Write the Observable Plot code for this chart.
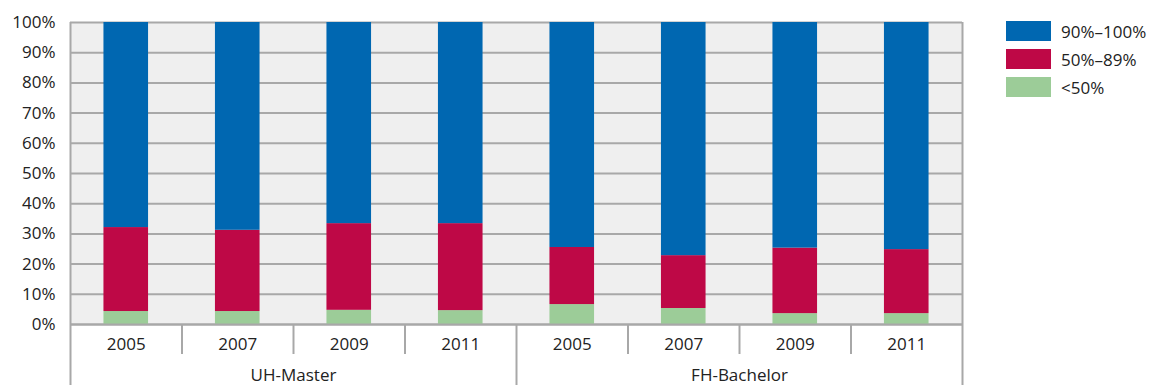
<!DOCTYPE html>
<html>
<head>
<meta charset="utf-8">
<script src="https://cdn.jsdelivr.net/npm/d3@7"></script>
<script src="https://cdn.jsdelivr.net/npm/@observablehq/plot@0.6"></script>
<style>
  body { margin: 0; background: #fff; font-family: "Open Sans", sans-serif; color: #222; }
  #wrap { position: relative; width: 1164px; height: 390px; }
  #legend { position: absolute; left: 1006px; top: 21px; font-size: 17px; }
  .row { display: flex; align-items: center; height: 20px; margin-bottom: 8px; }
  .sw { width: 45px; height: 20px; margin-right: 10px; }
</style>
</head>
<body>
<div id="wrap"><div id="legend"></div></div>
<script>
// Share of study programmes by completion rate, per degree type and survey year
const groups = ["UH-Master", "FH-Bachelor"];
const years = ["2005", "2007", "2009", "2011"];
const classNames = ["<50%", "50%–89%", "90%–100%"];
const colors = ["#9ccc98", "#be0846", "#0067b1"];
const below50 = [4.3, 4.3, 4.7, 4.6, 6.6, 5.3, 3.6, 3.6];
const from50to89 = [27.8, 26.9, 28.7, 28.8, 18.9, 17.5, 21.7, 21.2];
const from90to100 = [67.9, 68.8, 66.6, 66.6, 74.5, 77.2, 74.7, 75.2];
const yTicks = [0, 10, 20, 30, 40, 50, 60, 70, 80, 90, 100];

const series = [below50, from50to89, from90to100];

// one category per group × year, indexed left to right
const cats = [];
groups.forEach((g, gi) => years.forEach((yr, yi) => cats.push({i: gi * years.length + yi, group: g, year: yr})));

// stacked segments, bottom to top
const rows = [];
cats.forEach(c => {
  let base = 0;
  series.forEach((vals, s) => {
    rows.push({i: c.i, cls: classNames[s], y1: base, y2: base + vals[c.i]});
    base += vals[c.i];
  });
});

const groupCenters = groups.map((g, gi) => ({group: g, x: gi * years.length + years.length / 2}));
const inner = d3.range(1, cats.length).filter(k => k % years.length !== 0);
const groupBounds = d3.range(0, cats.length + 1, years.length);
const grey = "#a8a8a8";

const chart = Plot.plot({
  width: 1164,
  height: 390,
  marginLeft: 70,
  marginRight: 202,
  marginTop: 22,
  marginBottom: 66,
  style: {fontFamily: "Open Sans, sans-serif", fontSize: "17px", color: "#222", background: "transparent"},
  x: {domain: [0, cats.length], axis: null},
  y: {domain: [0, 100], axis: null},
  color: {domain: classNames, range: colors},
  marks: [
    Plot.frame({fill: "#efefef", stroke: null}),
    Plot.ruleY(yTicks, {stroke: grey, strokeWidth: 2}),
    Plot.rect(rows, {x1: d => d.i + 0.3, x2: d => d.i + 0.7, y1: "y1", y2: "y2", fill: "cls"}),
    Plot.axisY({ticks: yTicks, tickFormat: d => d + "%", tickSize: 0, tickPadding: 15, fontSize: 17}),
    // separators between years below the baseline
    Plot.ruleX(inner, {y1: 0, y2: 0, insetBottom: -30, stroke: grey, strokeWidth: 2}),
    // group boundaries
    Plot.ruleX([groupBounds[1]], {y1: 0, y2: 0, insetBottom: -61, stroke: grey, strokeWidth: 2}),
    Plot.ruleX([groupBounds[0], groupBounds[2]], {insetBottom: -61, stroke: grey, strokeWidth: 2}),
    Plot.ruleY([0], {stroke: grey, strokeWidth: 2}),
    Plot.text(cats, {x: d => d.i + 0.5, text: "year", frameAnchor: "bottom", dy: 25, fontSize: 17, fill: "#222"}),
    Plot.text(groupCenters, {x: "x", text: "group", frameAnchor: "bottom", dy: 56, fontSize: 17, fill: "#222"})
  ]
});
document.getElementById("wrap").prepend(chart);

// legend, top class first
const legend = d3.select("#legend");
[2, 1, 0].forEach(s => {
  const row = legend.append("div").attr("class", "row");
  row.append("div").attr("class", "sw").style("background", colors[s]);
  row.append("span").text(classNames[s]);
});
</script>
</body>
</html>
